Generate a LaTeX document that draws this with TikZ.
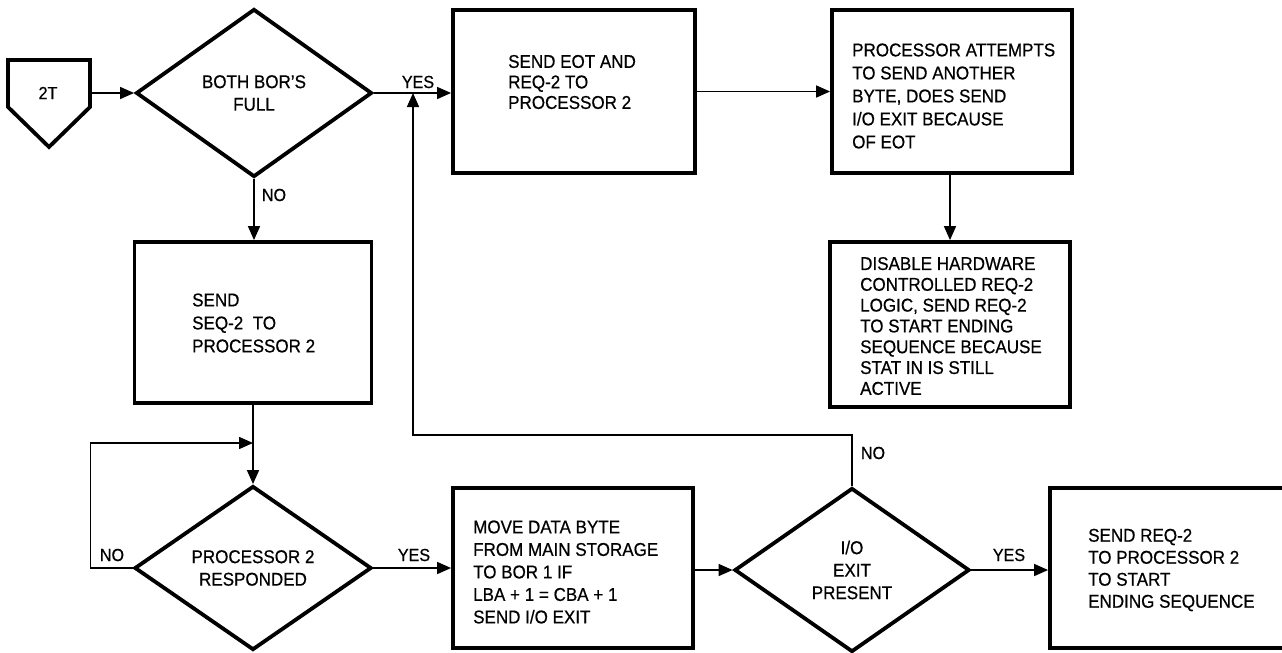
\documentclass[tikz,border=0pt]{standalone}
\usepackage{fontspec}
\setmainfont{Liberation Sans}[FakeStretch=0.92,FakeBold=0.6]
\usetikzlibrary{shapes.geometric,arrows.meta,calc}
\begin{document}
\begin{tikzpicture}[x=1pt,y=-1pt,
  box/.style={draw,rectangle,line width=3.8pt,inner sep=0pt},
  dia/.style={draw,diamond,line width=3.8pt,inner sep=0pt,align=center,
    font=\fontsize{18.5}{22.5}\selectfont},
  conn/.style={line width=1.5pt},
  arr/.style={conn,-{Triangle[length=14pt,width=12pt]}},
  txt/.style={align=left,inner sep=0pt,anchor=west,font=\fontsize{18.5}{22}\selectfont},
  lab/.style={inner sep=0pt,font=\fontsize{17.5}{18}\selectfont}]
\useasboundingbox (0,0) rectangle (1282,653);
\clip (0,0) rectangle (1282,653);

% start connector symbol
\node[rectangle,inner sep=0pt,outer sep=0pt,minimum width=82pt,minimum height=47pt] (p) at (49,83.5) {};
\draw[line width=3.8pt,line join=miter] (p.north west) -- (p.north east) -- (p.south east)
  -- ($(p.south)+(0,40)$) -- (p.south west) -- cycle;
\node[lab] (pt) at (48,93) {2T};

% decisions
\node[dia,minimum width=236pt,minimum height=168pt] (d1) at (254,93) {BOTH BOR'S\\FULL};
\node[dia,minimum width=237pt,minimum height=164pt] (d2) at (253,568) {PROCESSOR 2\\RESPONDED};
\node[dia,minimum width=235pt,minimum height=164pt] (d3) at (852,570) {I/O\\EXIT\\PRESENT};

% process boxes
\node[box,minimum width=242pt,minimum height=163pt] (b2) at (574,91.5) {};
\node[txt,font=\fontsize{18.5}{20.5}\selectfont] (t2) at (508,82) {SEND EOT AND\\REQ-2 TO\\PROCESSOR 2};

\node[box,minimum width=240pt,minimum height=163pt] (b3) at (952,91.5) {};
\node[txt,font=\fontsize{18.5}{23}\selectfont] (t3) at (852,96) {PROCESSOR ATTEMPTS\\TO SEND ANOTHER\\BYTE, DOES SEND\\I/O EXIT BECAUSE\\OF EOT};

\node[box,minimum width=240pt,minimum height=165pt] (b4) at (950,324.5) {};
\node[txt,font=\fontsize{18.5}{20.8}\selectfont] (t4) at (860,326) {DISABLE HARDWARE\\CONTROLLED REQ-2\\LOGIC, SEND REQ-2\\TO START ENDING\\SEQUENCE BECAUSE\\STAT IN IS STILL\\ACTIVE};

\node[box,minimum width=237pt,minimum height=161pt] (b1) at (253,322.5) {};
\node[txt,font=\fontsize{18.5}{23}\selectfont] (t1) at (192,323) {SEND\\SEQ-2~ TO\\PROCESSOR 2};

\node[box,minimum width=240pt,minimum height=160pt] (b5) at (573,568) {};
\node[txt,font=\fontsize{18.5}{22.5}\selectfont] (t5) at (473,572) {MOVE DATA BYTE\\FROM MAIN STORAGE\\TO BOR 1 IF\\LBA + 1 = CBA + 1\\SEND I/O EXIT};

\node[box,minimum width=240pt,minimum height=160pt] (b6) at (1170,568) {};
\node[txt,font=\fontsize{18.5}{22}\selectfont] (t6) at (1088,570) {SEND REQ-2\\TO PROCESSOR 2\\TO START\\ENDING SEQUENCE};

% junctions
\coordinate (j1) at (253,443);
\coordinate (j2) at (413,93);

% connectors
\draw[arr] (p.east |- d1.west) -- (d1.west);
\draw[arr] (d1.east) -- (d1.east -| b2.west);
\draw[arr] (b2.east |- b3.west) -- (b3.west);
\draw[arr] (b3.south -| b4.north) -- (b4.north);
\draw[arr] (d1.south) -- (d1.south |- b1.north);
\draw[arr] (b1.south) -- (b1.south |- d2.north);
\draw[arr] (d2.west) -- ++(-42,0) |- (j1);
\draw[arr] (d2.east) -- (d2.east -| b5.west);
\draw[arr] (b5.east |- d3.west) -- (d3.west);
\draw[arr] (d3.east) -- (d3.east -| b6.west);
\draw[arr] (d3.north) -- ++(0,-51) -| (j2);

% labels
\node[lab] (ly1) at (418,82) {YES};
\node[lab] (ln1) at (274,195) {NO};
\node[lab] (ln2) at (112,555) {NO};
\node[lab] (ly2) at (414,555) {YES};
\node[lab] (ln3) at (873,453) {NO};
\node[lab] (ly3) at (1009,555) {YES};
\end{tikzpicture}
\end{document}
